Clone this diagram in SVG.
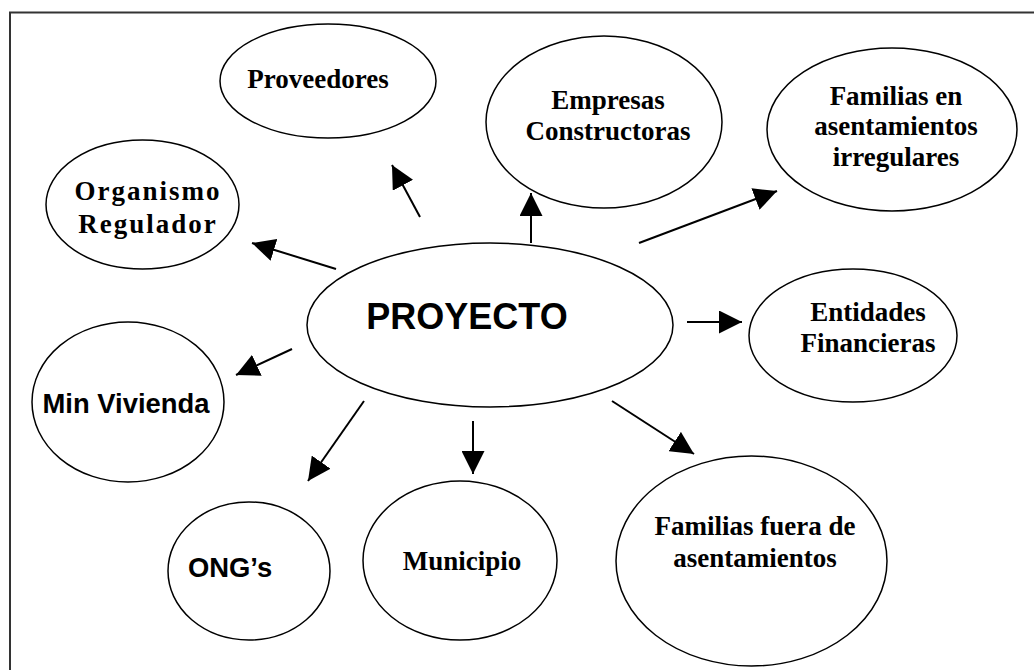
<svg xmlns="http://www.w3.org/2000/svg" width="1034" height="670" viewBox="0 0 1034 670">
<defs>
<marker id="ah" markerUnits="userSpaceOnUse" markerWidth="23" markerHeight="23" refX="22" refY="11" orient="auto" viewBox="0 0 22 22">
<path d="M0,0 L22,11 L0,22 z" fill="#000"/>
</marker>
<style>
.n{fill:#fff;stroke:#000;stroke-width:1.5}
.t{font-family:"Liberation Serif","Times New Roman",serif;font-weight:bold;font-size:27px;text-anchor:middle;fill:#000}
.w{letter-spacing:2px}
.s{font-family:"Liberation Sans",Arial,sans-serif;font-weight:bold;font-size:27.4px;text-anchor:middle;fill:#000}
.c{stroke:#000;stroke-width:2;fill:none;marker-end:url(#ah)}
</style>
</defs>
<rect x="0" y="0" width="1034" height="670" fill="#fff"/>
<rect x="10" y="12.5" width="1100" height="700" fill="none" stroke="#333" stroke-width="2"/>
<g id="connectors">
<line class="c" x1="420" y1="217" x2="392" y2="165"/>
<line class="c" x1="336" y1="269" x2="252" y2="243"/>
<line class="c" x1="531" y1="243" x2="531" y2="193"/>
<line class="c" x1="639" y1="243" x2="777" y2="191"/>
<line class="c" x1="687" y1="322" x2="742" y2="322"/>
<line class="c" x1="292" y1="349" x2="236" y2="375"/>
<line class="c" x1="364" y1="401" x2="308" y2="481"/>
<line class="c" x1="473" y1="421" x2="473" y2="474"/>
<line class="c" x1="612" y1="401" x2="694" y2="454"/>
</g>
<g id="proyecto">
<ellipse class="n" cx="490" cy="325" rx="183" ry="82"/>
<text class="s" x="467" y="329" style="font-size:36px">PROYECTO</text>
</g>
<g id="proveedores">
<ellipse class="n" cx="328" cy="81" rx="108" ry="57"/>
<text class="t" x="318" y="88">Proveedores</text>
</g>
<g id="organismo">
<ellipse class="n" cx="142.5" cy="204.5" rx="96.5" ry="64.5"/>
<text class="t w" x="148" y="200">Organismo</text>
<text class="t w" x="148" y="233">Regulador</text>
</g>
<g id="empresas">
<ellipse class="n" cx="604" cy="122" rx="118" ry="86"/>
<text class="t" x="608" y="109">Empresas</text>
<text class="t" x="608" y="140">Constructoras</text>
</g>
<g id="familias-en">
<ellipse class="n" cx="892" cy="129.5" rx="125" ry="81.5"/>
<text class="t" x="896" y="105">Familias en</text>
<text class="t" x="896" y="135">asentamientos</text>
<text class="t" x="896" y="166">irregulares</text>
</g>
<g id="entidades">
<ellipse class="n" cx="853" cy="335.5" rx="104" ry="66.5"/>
<text class="t" x="868" y="321">Entidades</text>
<text class="t" x="868" y="352">Financieras</text>
</g>
<g id="min-vivienda">
<ellipse class="n" cx="128" cy="402" rx="96" ry="80"/>
<text class="s" x="126" y="413">Min Vivienda</text>
</g>
<g id="ongs">
<ellipse class="n" cx="249" cy="571" rx="81" ry="69"/>
<text class="s" x="230" y="577">ONG’s</text>
</g>
<g id="municipio">
<ellipse class="n" cx="460" cy="560.5" rx="97" ry="79.5"/>
<text class="t" x="462" y="570">Municipio</text>
</g>
<g id="familias-fuera">
<ellipse class="n" cx="751.5" cy="561" rx="135.5" ry="105"/>
<text class="t" x="755" y="535">Familias fuera de</text>
<text class="t" x="755" y="567">asentamientos</text>
</g>
</svg>
